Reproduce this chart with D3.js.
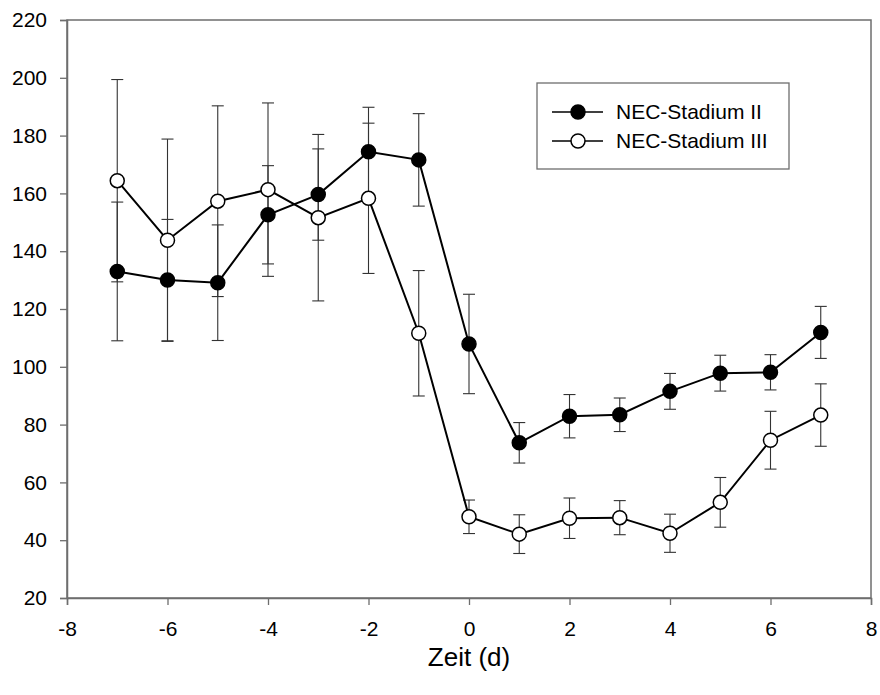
<!DOCTYPE html>
<html>
<head>
<meta charset="utf-8">
<script src="https://cdn.jsdelivr.net/npm/d3@7"></script>
<style>
  html, body { margin: 0; padding: 0; background: #fff; }
  svg { display: block; font-family: "Liberation Sans", Arial, sans-serif; }
</style>
</head>
<body>
<svg id="chart" width="880" height="695"></svg>
<script>
// ---- Data ----
const days = [-7, -6, -5, -4, -3, -2, -1, 0, 1, 2, 3, 4, 5, 6, 7];
const stageII = [133.0, 130.0, 129.1, 152.6, 159.6, 174.4, 171.6, 107.9, 73.7, 82.9, 83.4, 91.5, 97.8, 98.1, 111.9];
const stageIIErr = [24.0, 21.0, 20.0, 17.0, 15.8, 15.4, 16.0, 17.2, 7.0, 7.5, 5.8, 6.2, 6.2, 6.1, 9.0];
const stageIII = [164.4, 143.8, 157.3, 161.3, 151.6, 158.3, 111.6, 48.1, 42.1, 47.6, 47.8, 42.4, 53.1, 74.6, 83.3];
const stageIIIErr = [35.0, 35.0, 33.0, 30.0, 28.8, 26.0, 21.7, 5.8, 6.7, 7.0, 5.9, 6.6, 8.6, 10.0, 10.8];
const xTicks = [-8, -6, -4, -2, 0, 2, 4, 6, 8];
const yTicks = [20, 40, 60, 80, 100, 120, 140, 160, 180, 200, 220];
const seriesNames = ["NEC-Stadium II", "NEC-Stadium III"];
const xLabel = "Zeit (d)";

const series = [
  { name: seriesNames[0], values: stageII, err: stageIIErr, fill: "#000" },
  { name: seriesNames[1], values: stageIII, err: stageIIIErr, fill: "#fff" }
];

// ---- Layout ----
const plotL = 67, plotR = 871, plotT = 20, plotB = 598;
const svg = d3.select("#chart");
const x = d3.scaleLinear().domain([-8, 8]).range([plotL, plotR]);
const y = d3.scaleLinear().domain([20, 220]).range([plotB, plotT]);

const axisColor = "#6e6e6e";
const fontSize = 21;

// frame
svg.append("rect")
  .attr("x", plotL).attr("y", plotT)
  .attr("width", plotR - plotL).attr("height", plotB - plotT)
  .attr("fill", "none").attr("stroke", axisColor).attr("stroke-width", 1.5);

// axes
const xAxis = svg.append("g").attr("transform", `translate(0,${plotB})`)
  .call(d3.axisBottom(x).tickValues(xTicks).tickSize(7).tickPadding(16).tickFormat(d => String(d)));
const yAxis = svg.append("g").attr("transform", `translate(${plotL},0)`)
  .call(d3.axisLeft(y).tickValues(yTicks).tickSize(7).tickPadding(13).tickFormat(d => String(d)));
[xAxis, yAxis].forEach(a => {
  a.select(".domain").attr("stroke", axisColor).attr("stroke-width", 1.5);
  a.selectAll(".tick line").attr("stroke", axisColor).attr("stroke-width", 1.3);
  a.selectAll(".tick text").attr("fill", "#000").attr("font-size", fontSize)
    .attr("font-family", "'Liberation Sans', Arial, sans-serif");
});

// x label
svg.append("text")
  .attr("x", (plotL + plotR) / 2).attr("y", 666)
  .attr("text-anchor", "middle")
  .attr("font-size", 26)
  .text(xLabel);

// error bars
const cap = 6;
series.forEach(s => {
  const g = svg.append("g");
  days.forEach((d, i) => {
    const cx = x(d), y1 = y(s.values[i] + s.err[i]), y0 = y(s.values[i] - s.err[i]);
    g.append("line").attr("x1", cx).attr("x2", cx).attr("y1", y1).attr("y2", y0)
      .attr("stroke", "#333").attr("stroke-width", 1.1);
    g.append("line").attr("x1", cx - cap).attr("x2", cx + cap).attr("y1", y1).attr("y2", y1)
      .attr("stroke", "#333").attr("stroke-width", 1.1);
    g.append("line").attr("x1", cx - cap).attr("x2", cx + cap).attr("y1", y0).attr("y2", y0)
      .attr("stroke", "#333").attr("stroke-width", 1.1);
  });
});

// lines + markers
const line = d3.line().x((d, i) => x(days[i])).y(d => y(d));
series.forEach(s => {
  svg.append("path").datum(s.values)
    .attr("d", line).attr("fill", "none")
    .attr("stroke", "#000").attr("stroke-width", 2);
});
series.forEach(s => {
  svg.append("g").selectAll("circle").data(s.values).join("circle")
    .attr("cx", (d, i) => x(days[i])).attr("cy", d => y(d)).attr("r", 7)
    .attr("fill", s.fill).attr("stroke", "#000").attr("stroke-width", 1.5);
});

// legend
const lg = svg.append("g");
lg.append("rect").attr("x", 537).attr("y", 83).attr("width", 252).attr("height", 86)
  .attr("fill", "#fff").attr("stroke", axisColor).attr("stroke-width", 1.3);
series.forEach((s, i) => {
  const ry = 112 + i * 29;
  lg.append("line").attr("x1", 552).attr("x2", 603).attr("y1", ry).attr("y2", ry)
    .attr("stroke", "#000").attr("stroke-width", 1.5);
  lg.append("circle").attr("cx", 578).attr("cy", ry).attr("r", 7)
    .attr("fill", s.fill).attr("stroke", "#000").attr("stroke-width", 1.5);
  lg.append("text").attr("x", 616).attr("y", ry).attr("dy", "0.35em")
    .attr("font-size", fontSize).text(s.name);
});
</script>
</body>
</html>
